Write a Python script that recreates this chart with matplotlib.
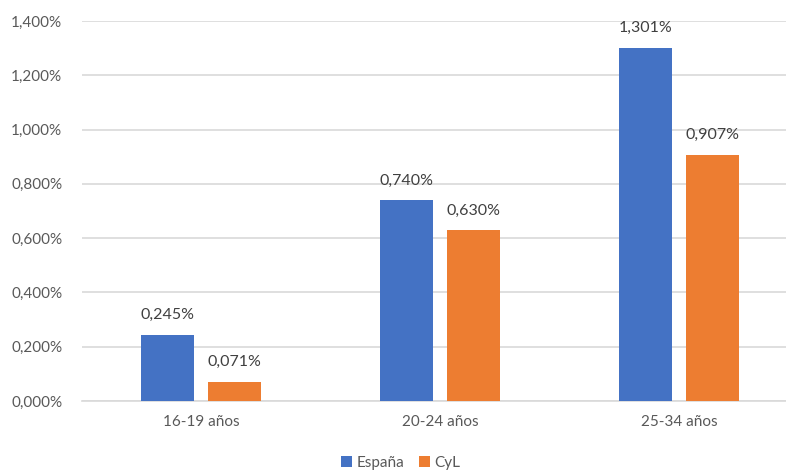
import matplotlib
matplotlib.use("Agg")
import matplotlib.pyplot as plt
from matplotlib.ticker import FuncFormatter, MultipleLocator
import numpy as np

categories = ["16-19 años", "20-24 años", "25-34 años"]
espana = [0.245, 0.740, 1.301]
cyl = [0.071, 0.630, 0.907]
series_names = ["España", "CyL"]

plt.rcParams['font.family'] = ['Lato', 'DejaVu Sans']

blue = "#4472C4"
orange = "#ED7D31"
text_grey = "#595959"

fig = plt.figure(figsize=(7.86, 4.72), dpi=100)
ax = fig.add_axes([0.104, 0.1504, 0.896, 0.8051])

x = np.arange(len(categories))
w = 0.222
off = 0.14
b1 = ax.bar(x - off, espana, w, color=blue, label=series_names[0], zorder=3)
b2 = ax.bar(x + off, cyl, w, color=orange, label=series_names[1], zorder=3)


def pct(v):
    # Spanish style: comma as decimal separator, dot for thousands
    s = f"{v:.3f}%".replace(".", ",")
    return s


def axis_fmt(v, pos):
    s = f"{v:.3f}"
    whole, frac = s.split(".")
    if v >= 0.999:
        return f"{whole},{frac}%"
    return f"{whole},{frac}%"


for bars, vals in ((b1, espana), (b2, cyl)):
    for rect, v in zip(bars, vals):
        ax.annotate(pct(v), (rect.get_x() + rect.get_width() / 2, v),
                    xytext=(0, 9), textcoords="offset points",
                    ha="center", va="bottom", fontsize=11.5, color="#404040")

ax.set_ylim(0, 1.4)
ax.set_xlim(-0.5, 2.448)
ax.yaxis.set_major_locator(MultipleLocator(0.2))
ax.yaxis.set_major_formatter(FuncFormatter(axis_fmt))
ax.set_xticks(x)
ax.set_xticklabels(categories)
ax.tick_params(axis="both", length=0, labelsize=11, labelcolor=text_grey)
ax.tick_params(axis="x", pad=10)
ax.tick_params(axis="y", pad=14)
ax.grid(axis="y", color="#D9D9D9", linewidth=1.2, zorder=0)
for s in ("top", "right", "left"):
    ax.spines[s].set_visible(False)
ax.spines["bottom"].set_color("#D9D9D9")
ax.spines["bottom"].set_linewidth(1.2)

fig.legend(loc="lower center", bbox_to_anchor=(0.51, -0.025), ncol=2, frameon=False,
           fontsize=11, handlelength=0.7, handleheight=0.7, handletextpad=0.3,
           columnspacing=1.0, labelcolor=text_grey)

fig.savefig("out.png", dpi=100)
